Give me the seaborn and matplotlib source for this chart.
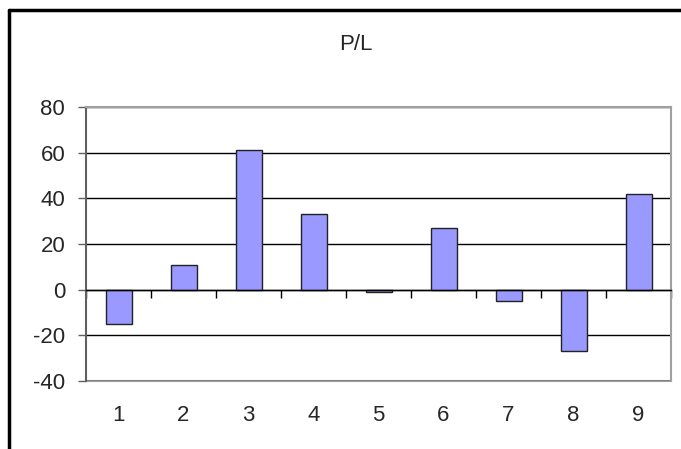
import matplotlib
matplotlib.use("Agg")
import matplotlib.pyplot as plt
from matplotlib.lines import Line2D
import numpy as np
import pandas as pd
import seaborn as sns

# data
periods = ["1", "2", "3", "4", "5", "6", "7", "8", "9"]
pl_values = [-15, 11, 61, 33, -1, 27, -5, -27, 42]
y_ticks = [-40, -20, 0, 20, 40, 60, 80]

sns.set_style("white")
plt.rcParams['font.family'] = ['Liberation Sans', 'DejaVu Sans']
plt.rcParams['axes.unicode_minus'] = False

df = pd.DataFrame({"period": periods, "pl": pl_values})

fig = plt.figure(figsize=(6.81, 4.49), dpi=100)
ax = fig.add_axes([86 / 681, 1 - 381 / 449, 585 / 681, 274 / 449])

sns.barplot(data=df, x="period", y="pl", order=periods, color="#9999FF",
            edgecolor="#222222", linewidth=1, width=0.4, saturation=1, ax=ax)

ax.set_ylim(-40, 80)
ax.set_xlim(-0.5, len(periods) - 0.5)
ax.set_yticks(y_ticks)
ax.set_xlabel("")
ax.set_ylabel("")

# horizontal gridlines in black, plot frame in grey
ax.set_axisbelow(True)
ax.yaxis.grid(True, color="black", linewidth=1)
ax.xaxis.grid(False)
for side in ["top", "right"]:
    ax.spines[side].set_visible(True)
    ax.spines[side].set_color("#a0a0a0")
    ax.spines[side].set_linewidth(1.5)
ax.spines["left"].set_color("#606060")
ax.spines["left"].set_linewidth(1.5)

# category axis sits on the zero line, ticks between categories
ax.spines["bottom"].set_position(("data", 0))
ax.spines["bottom"].set_color("black")
ax.spines["bottom"].set_linewidth(1)
ax.set_xticks(np.arange(-0.5, len(periods), 1.0))
ax.set_xticklabels([])
ax.tick_params(axis="x", direction="out", length=6, width=1, color="black", bottom=True)
ax.tick_params(axis="y", direction="out", length=6, width=1, color="#606060",
               left=True, labelsize=16, pad=9)

# category labels below the plot area
sec = ax.secondary_xaxis(0)
sec.set_xticks(range(len(periods)))
sec.set_xticklabels(periods)
sec.tick_params(length=0, labelsize=16, pad=17)
sec.spines["bottom"].set_color("#a0a0a0")
sec.spines["bottom"].set_linewidth(1.5)

fig.text(356 / 681, 1 - 44 / 449, "P/L", ha="center", va="center", fontsize=16)

# chart area border (top and left visible)
fig.add_artist(Line2D([9 / 681, 1.0], [1 - 10 / 449, 1 - 10 / 449],
                      transform=fig.transFigure, color="black", linewidth=2.5))
fig.add_artist(Line2D([9 / 681, 9 / 681], [0.0, 1 - 10 / 449],
                      transform=fig.transFigure, color="black", linewidth=2.5))

plt.savefig("out.png", dpi=100)
plt.close()
